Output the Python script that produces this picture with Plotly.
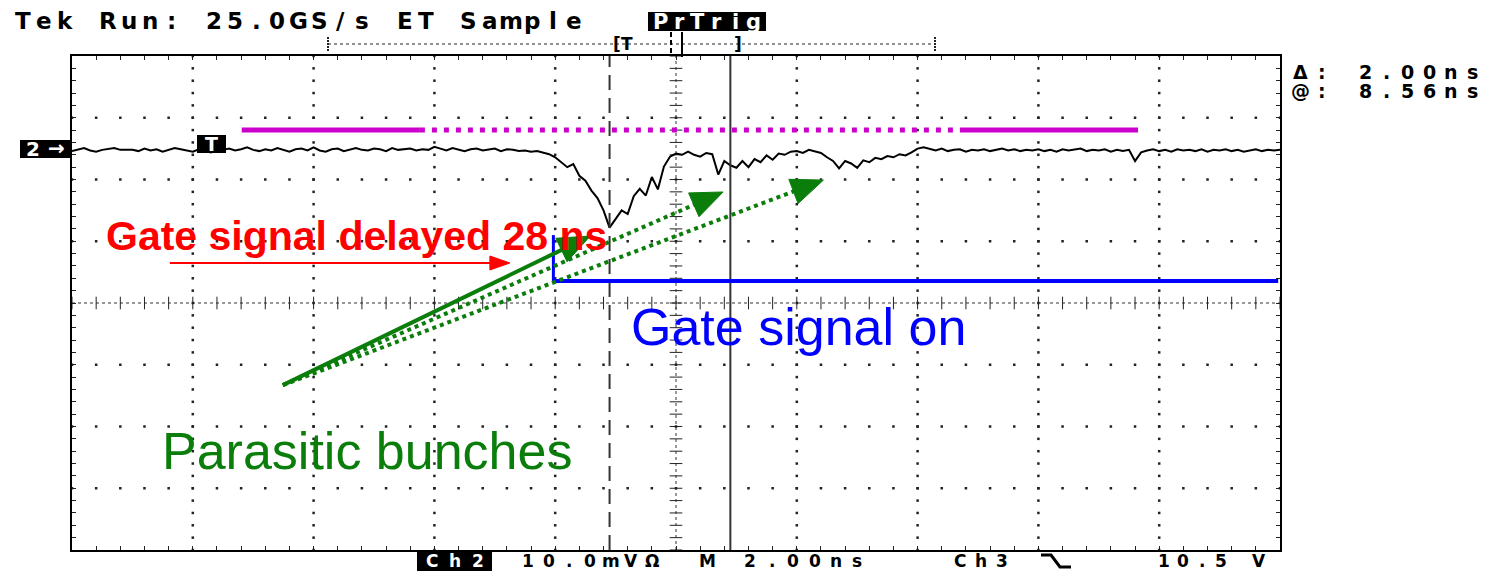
import numpy as np
import plotly.graph_objects as go

# ---------------------------------------------------------------------------
# Channel 2 record: 0.1 ns sample spacing, 2 ns/div, 10 mV/div
# ---------------------------------------------------------------------------
SAMPLE_NS = 0.1
ch2_mv = [
    24.6, 24.9, 25.1, 24.7, 24.5, 24.8, 25.0, 25.1, 24.8, 24.8, 24.8, 24.6, 25.0, 24.7, 24.9, 24.5, 24.8, 25.1, 24.9, 24.7,
    24.5, 24.9, 24.6, 24.4, 24.8, 24.8, 25.0, 24.7, 24.9, 25.2, 24.8, 24.6, 24.9, 24.7, 25.1, 24.8, 24.5, 24.9, 25.0, 24.7,
    25.2, 24.7, 24.5, 24.9, 25.0, 24.6, 24.9, 25.1, 24.8, 24.7, 25.0, 24.9, 24.6, 25.1, 24.8, 24.9, 25.0, 24.7, 24.9, 24.8,
    25.3, 25.0, 24.7, 25.1, 24.9, 24.6, 24.9, 25.0, 24.7, 24.8, 25.0, 24.6, 24.9, 24.8, 24.6, 24.7, 24.5, 24.6, 24.3, 24.1,
    23.6, 22.8, 22.0, 22.5, 20.6, 19.8, 18.2, 17.0, 15.0, 12.2, 13.6, 15.0, 14.4, 17.3, 18.5, 17.4, 20.4, 18.4, 22.1, 23.7,
    24.2, 24.0, 24.5, 24.0, 23.7, 24.3, 24.1, 20.8, 23.0, 22.3, 21.9, 23.0, 22.0, 23.3, 22.8, 23.9, 23.2, 24.2, 24.0, 24.5,
    24.6, 24.3, 24.8, 24.5, 24.3, 23.6, 23.0, 21.8, 23.0, 22.6, 21.9, 23.1, 22.8, 23.5, 23.3, 23.8, 23.6, 24.1, 23.9, 24.4,
    25.0, 25.2, 24.9, 24.7, 25.0, 24.6, 24.8, 24.9, 24.5, 24.8, 24.7, 24.9, 24.6, 24.8, 25.0, 24.7, 24.9, 24.6, 24.8, 24.7,
    24.9, 24.6, 24.8, 24.5, 24.9, 24.7, 24.8, 25.0, 24.6, 24.8, 24.7, 24.9, 24.5, 24.8, 24.6, 24.8, 23.0, 24.4, 24.7, 24.9,
    24.6, 24.8, 24.5, 24.9, 24.7, 24.8, 24.6, 24.9, 24.5, 24.8, 24.7, 24.9, 24.6, 24.8, 24.5, 24.7, 24.9, 24.6, 24.8, 24.7,
    24.8,
]
t_ns = np.arange(len(ch2_mv)) * SAMPLE_NS

# readout strings
header_text = "Tek Run: 25.0GS/s ET Sample"
trig_state = "PrTrig"
cursor_lines = ["\u0394: 2.00ns", "@: 8.56ns"]
ch2_scale = "10.0mV\u03a9"
timebase = "M 2.00ns"
trig_src = "Ch3"
trig_level = "10.5 V"

# cursor positions (ns)
cursor_a_ns = 8.9
cursor_b_ns = 10.9

# annotation overlay (ns, mV)
gate_window_mv = 28.0
gate_window_solid = [(2.81, 5.76), (14.70, 17.65)]
gate_window_dotted = (5.76, 14.70)
gate_on_mv = 3.56
gate_on_span = (7.97, 19.97)
gate_edge_top_mv = 11.0
delay_arrow_mv = 6.48
delay_arrow_span = (1.62, 7.25)
bunch_origin = (3.49, -13.3)
bunch_tips = [(8.58, 10.85, "solid"), (10.78, 17.98, "dot"), (12.44, 19.9, "dot")]

X_RANGE = (0.0, 20.0)
Y_RANGE = (-40.0, 40.0)
W, H = 1512, 572
PL, PR, PT, PB = 72, 1280, 56, 550

GREEN = "#0b7d0b"
MAGENTA = "#cc00cc"
BLUE = "#0000ff"
RED = "#ff0000"


def to_px(x, y):
    return (PL + (x - X_RANGE[0]) / (X_RANGE[1] - X_RANGE[0]) * (PR - PL),
            PB - (y - Y_RANGE[0]) / (Y_RANGE[1] - Y_RANGE[0]) * (PB - PT))


def to_data(px, py):
    return (X_RANGE[0] + (px - PL) / (PR - PL) * (X_RANGE[1] - X_RANGE[0]),
            Y_RANGE[0] + (PB - py) / (PB - PT) * (Y_RANGE[1] - Y_RANGE[0]))


def paper_x(px):
    return (px - PL) / (PR - PL)


def paper_y(py):
    return (PB - py) / (PB - PT)


def arrow(x0, y0, x1, y1, head_len, half_w):
    """Return (line end in data units, triangle path in data units)."""
    p0 = np.array(to_px(x0, y0))
    p1 = np.array(to_px(x1, y1))
    u = (p1 - p0) / np.linalg.norm(p1 - p0)
    n = np.array([-u[1], u[0]])
    base = p1 - u * head_len
    pts = [p1, base + n * half_w, base - n * half_w]
    pts = [to_data(*p) for p in pts]
    path = "M {} {} L {} {} L {} {} Z".format(pts[0][0], pts[0][1], pts[1][0], pts[1][1], pts[2][0], pts[2][1])
    return to_data(*(base + u * 2)), path


fig = go.Figure()
shapes = []
annotations = []

# ---- graticule -------------------------------------------------------------
gx, gy = [], []
for xv in [2, 4, 6, 8, 12, 14, 16, 18]:
    for yv in np.arange(-40, 40.01, 2):
        gx.append(xv); gy.append(yv)
for yv in [-30, -20, -10, 10, 20, 30]:
    for xv in np.arange(0, 20.01, 0.4):
        gx.append(xv); gy.append(yv)
fig.add_trace(go.Scatter(x=gx, y=gy, mode="markers", hoverinfo="skip",
                         marker=dict(symbol="square", size=2.5, color="#222", line=dict(width=0))))

shapes.append(dict(type="line", xref="x", yref="y", x0=10, x1=10, y0=-40, y1=40,
                   line=dict(color="#333", width=1, dash="dot"), layer="below"))
shapes.append(dict(type="line", xref="x", yref="y", x0=0, x1=20, y0=0, y1=0,
                   line=dict(color="#333", width=1, dash="dot"), layer="below"))
cy = np.arange(-40, 40.01, 2)
fig.add_trace(go.Scatter(x=[10] * len(cy), y=cy, mode="markers", hoverinfo="skip",
                         marker=dict(symbol="line-ew", size=9, line=dict(width=1, color="#222"))))
cx = np.arange(0, 20.01, 0.4)
fig.add_trace(go.Scatter(x=cx, y=[0] * len(cx), mode="markers", hoverinfo="skip",
                         marker=dict(symbol="line-ns", size=9, line=dict(width=1, color="#222"))))

# ---- cursors ---------------------------------------------------------------
shapes.append(dict(type="line", xref="x", yref="y", x0=cursor_a_ns, x1=cursor_a_ns, y0=-40, y1=40,
                   line=dict(color="#333", width=2, dash="15px,8px")))
shapes.append(dict(type="line", xref="x", yref="y", x0=cursor_b_ns, x1=cursor_b_ns, y0=-40, y1=40,
                   line=dict(color="#333", width=2)))

# ---- waveform --------------------------------------------------------------
fig.add_trace(go.Scatter(x=t_ns, y=ch2_mv, mode="lines", hoverinfo="skip",
                         line=dict(color="black", width=2)))

# ---- gate window (magenta) --------------------------------------------------
for a, b in gate_window_solid:
    shapes.append(dict(type="line", xref="x", yref="y", x0=a, x1=b, y0=gate_window_mv, y1=gate_window_mv,
                       line=dict(color=MAGENTA, width=5), layer="above"))
shapes.append(dict(type="line", xref="x", yref="y", x0=gate_window_dotted[0], x1=gate_window_dotted[1],
                   y0=gate_window_mv, y1=gate_window_mv,
                   line=dict(color=MAGENTA, width=5, dash="5px,7px"), layer="above"))

# ---- gate on (blue) --------------------------------------------------------
shapes.append(dict(type="line", xref="x", yref="y", x0=gate_on_span[0], x1=gate_on_span[1],
                   y0=gate_on_mv, y1=gate_on_mv, line=dict(color=BLUE, width=4), layer="above"))
shapes.append(dict(type="line", xref="x", yref="y", x0=gate_on_span[0], x1=gate_on_span[0],
                   y0=gate_on_mv, y1=gate_edge_top_mv, line=dict(color=BLUE, width=3), layer="above"))

# ---- delay arrow (red) -----------------------------------------------------
end, head = arrow(delay_arrow_span[0], delay_arrow_mv, delay_arrow_span[1], delay_arrow_mv, 20, 7)
shapes.append(dict(type="line", xref="x", yref="y", x0=delay_arrow_span[0], x1=end[0],
                   y0=delay_arrow_mv, y1=end[1], line=dict(color=RED, width=2), layer="above"))
shapes.append(dict(type="path", xref="x", yref="y", path=head, fillcolor=RED,
                   line=dict(color=RED, width=1), layer="above"))

# ---- parasitic bunch arrows (green) ----------------------------------------
for tx, ty, style in bunch_tips:
    end, head = arrow(bunch_origin[0], bunch_origin[1], tx, ty, 32, 13)
    shapes.append(dict(type="line", xref="x", yref="y", x0=bunch_origin[0], y0=bunch_origin[1],
                       x1=end[0], y1=end[1],
                       line=dict(color=GREEN, width=4, dash=("solid" if style == "solid" else "dot")),
                       layer="above"))
    shapes.append(dict(type="path", xref="x", yref="y", path=head, fillcolor=GREEN,
                       line=dict(color=GREEN, width=1), layer="above"))

# ---- overlay captions ------------------------------------------------------
annotations.append(dict(xref="x", yref="y", x=to_data(104, 0)[0], y=to_data(0, 236)[1],
                        text="Gate signal delayed 28 ns", showarrow=False, xanchor="left", yanchor="middle",
                        font=dict(family="Liberation Sans, Arial", size=41, color=RED, weight="bold")))
annotations.append(dict(xref="x", yref="y", x=to_data(629, 0)[0], y=to_data(0, 327)[1],
                        text="Gate signal on", showarrow=False, xanchor="left", yanchor="middle",
                        font=dict(family="Liberation Sans, Arial", size=52, color=BLUE)))
annotations.append(dict(xref="x", yref="y", x=to_data(160, 0)[0], y=to_data(0, 451)[1],
                        text="Parasitic bunches", showarrow=False, xanchor="left", yanchor="middle",
                        font=dict(family="Liberation Sans, Arial", size=52, color=GREEN)))


# ---- scope readouts ----------------------------------------------------------
def char_row(text, left_px, right_px, y_px, size, color="black", anchor="middle"):
    adv = (right_px - left_px) / len(text)
    for i, ch in enumerate(text):
        if ch == " ":
            continue
        annotations.append(dict(xref="paper", yref="paper", x=paper_x(left_px + adv * (i + 0.5)),
                                y=paper_y(y_px), text=ch, showarrow=False,
                                xanchor="center", yanchor=anchor, borderpad=0,
                                font=dict(family="DejaVu Sans", size=size, color=color, weight="bold")))


def black_box(x0, x1, y0, y1):
    shapes.append(dict(type="rect", xref="paper", yref="paper",
                       x0=paper_x(x0), x1=paper_x(x1), y0=paper_y(y1), y1=paper_y(y0),
                       fillcolor="black", line=dict(width=0), layer="above"))


char_row(header_text, 12, 585, 21, 23)
black_box(648, 766, 12, 31)
char_row(trig_state, 651, 763, 22, 21, "white")
char_row(cursor_lines[0], 1290, 1483, 72, 19)
char_row(cursor_lines[1], 1290, 1483, 91, 19)

# bottom status line sits flush with the lower page edge
BOTTOM = 571.5
black_box(417, 492, 552, 571)
char_row("Ch2", 420, 490, BOTTOM, 17, "white", "bottom")
char_row(ch2_scale, 518, 662, BOTTOM, 17, anchor="bottom")
char_row(timebase, 697, 868, BOTTOM, 17, anchor="bottom")
char_row(trig_src, 950, 1012, BOTTOM, 17, anchor="bottom")
char_row(trig_level, 1155, 1268, BOTTOM, 17, anchor="bottom")
# falling-edge trigger glyph
shapes.append(dict(type="path", xref="paper", yref="paper",
                   path="M {} {} L {} {} L {} {} L {} {}".format(
                       paper_x(1041), paper_y(555), paper_x(1051), paper_y(555),
                       paper_x(1060), paper_y(567), paper_x(1071), paper_y(567)),
                   line=dict(color="black", width=3)))

# channel 2 ground marker
black_box(20, 72, 140, 158)
char_row("2", 23, 43, 149, 20, "white")
char_row("\u2192", 43, 69, 148, 20, "white")

# trigger point marker
black_box(197, 226, 135, 153)
char_row("T", 200, 223, 144, 19, "white")

# record-position bar above the graticule
shapes.append(dict(type="line", xref="paper", yref="paper", x0=paper_x(328), x1=paper_x(935),
                   y0=paper_y(44), y1=paper_y(44), line=dict(color="#222", width=1, dash="dot")))
for bx in (328, 935):
    shapes.append(dict(type="line", xref="paper", yref="paper", x0=paper_x(bx), x1=paper_x(bx),
                       y0=paper_y(37), y1=paper_y(51), line=dict(color="#222", width=2, dash="2px,1px")))
char_row("[", 613, 621, 44, 17)
char_row("T", 620, 634, 44, 17)
char_row("]", 733, 743, 44, 17)
shapes.append(dict(type="line", xref="paper", yref="paper", x0=paper_x(671), x1=paper_x(671),
                   y0=paper_y(32), y1=paper_y(56), line=dict(color="black", width=2, dash="5px,3px")))
shapes.append(dict(type="line", xref="paper", yref="paper", x0=paper_x(682), x1=paper_x(682),
                   y0=paper_y(32), y1=paper_y(57), line=dict(color="black", width=2)))

axis_common = dict(showgrid=False, zeroline=False, showticklabels=False, showline=True,
                   linecolor="black", linewidth=2, mirror="ticks", ticks="inside",
                   ticklen=4, tickwidth=1, tickcolor="#222")

fig.update_layout(
    width=W, height=H,
    margin=dict(l=PL, r=W - PR, t=PT, b=H - PB),
    paper_bgcolor="white", plot_bgcolor="white",
    showlegend=False,
    xaxis=dict(range=list(X_RANGE), dtick=0.4, tick0=0, **axis_common),
    yaxis=dict(range=list(Y_RANGE), dtick=2, tick0=0, **axis_common),
    shapes=shapes,
    annotations=annotations,
)

fig.write_html("out.html")
